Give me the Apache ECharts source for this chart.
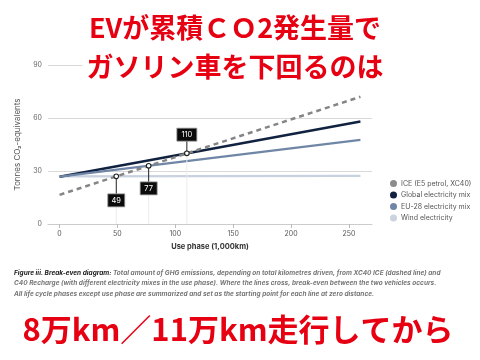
<!DOCTYPE html>
<html><head><meta charset="utf-8">
<script src="https://cdn.jsdelivr.net/npm/echarts@6/dist/echarts.min.js"></script>
<style>html,body{margin:0;padding:0;background:#fff}#c{width:480px;height:360px}</style>
</head><body><div id="c"></div>
<script>
const distance = [0, 260];
const iceValues = [16.5, 72];
const globalValues = [26.8, 58];
const euValues = [26.8, 47.6];
const windValues = [27, 27.2];
const breakEven = [[49, 26.96], [77, 32.95], [110, 39.98]];
const breakEvenLabels = ['49', '77', '110'];
const xTicks = [0, 50, 100, 150, 200, 250];
const yTicks = [0, 30, 60, 90];

const pair = (xs, ys) => xs.map((x, i) => [x, ys[i]]);
const labelOffsets = [24, 22.6, -18.7];

const chart = echarts.init(document.getElementById('c'));
const lineBase = {type: 'line', showSymbol: false, symbol: 'circle', animation: false, z: 3};
chart.setOption({
  animation: false,
  title: [
    {text: 'EVが累積ＣＯ2発生量で\nガソリン車を下回るのは', left: 231, textAlign: 'center', top: 6,
     backgroundColor: '#fff', padding: [2, 4, 0, 4],
     textStyle: {color: '#e60012', fontSize: 27, fontWeight: 'bold', lineHeight: 39,
       fontFamily: 'Noto Sans CJK JP'}},
    {text: '{b|Figure iii. Break-even diagram:} Total amount of GHG emissions, depending on total kilometres driven, from XC40 ICE (dashed line) and\nC40 Recharge (with different electricity mixes in the use phase). Where the lines cross, break-even between the two vehicles occurs.\nAll life cycle phases except use phase are summarized and set as the starting point for each line at zero distance.',
     left: 14, top: 268, padding: 0,
     textStyle: {color: '#777', fontSize: 6.5, fontStyle: 'italic', lineHeight: 10.3, fontFamily: 'Inter',
       rich: {b: {fontWeight: 'bold', color: '#222', fontStyle: 'italic', fontSize: 6.5, fontFamily: 'Inter'}}}},
    {text: '8万km／11万km走行してから', left: 233, textAlign: 'center', top: 309,
     textStyle: {color: '#e60012', fontSize: 31, fontWeight: 'bold', fontFamily: 'Noto Sans CJK JP'}}
  ],
  grid: {left: 48, right: 108, top: 65, bottom: 136},
  legend: {
    orient: 'vertical', left: 385, top: 175, itemWidth: 7, itemHeight: 7, itemGap: 4.5,
    icon: 'circle', textStyle: {fontSize: 7, color: '#555', fontFamily: 'Inter', padding: [0, 0, 0, -1]},
    data: ['ICE (E5 petrol, XC40)', 'Global electricity mix', 'EU-28 electricity mix', 'Wind electricity']
  },
  xAxis: {
    type: 'value', min: -10, max: 270, interval: 10,
    name: 'Use phase (1,000km)', nameLocation: 'middle', nameGap: 19,
    nameTextStyle: {fontSize: 7.5, fontWeight: 'bold', color: '#333', fontFamily: 'Inter'},
    axisLine: {lineStyle: {color: '#ccc'}},
    axisTick: {show: true, length: 4, lineStyle: {color: '#bbb'},
      customValues: xTicks},
    axisLabel: {fontSize: 7, color: '#555', margin: 6, fontFamily: 'Inter',
      customValues: xTicks},
    splitLine: {show: false}
  },
  yAxis: {
    type: 'value', min: 0, max: 90, interval: 30,
    name: 'Tonnes CO₂-equivalents', nameLocation: 'middle', nameGap: 26, nameRotate: 90,
    nameTextStyle: {fontSize: 8, color: '#555', fontFamily: 'Inter'},
    axisLine: {show: false}, axisTick: {show: false},
    axisLabel: {fontSize: 7, color: '#666', margin: 6, fontFamily: 'Inter',
      formatter: v => yTicks.includes(v) ? String(v) : ''},
    splitLine: {lineStyle: {color: '#d9d9d9'}}
  },
  series: [
    Object.assign({}, lineBase, {name: 'ICE (E5 petrol, XC40)', data: pair(distance, iceValues),
      itemStyle: {color: '#8c8c8c'}, lineStyle: {color: '#858585', width: 2.5, type: [5, 4]}, z: 5}),
    Object.assign({}, lineBase, {name: 'Global electricity mix', data: pair(distance, globalValues),
      itemStyle: {color: '#10223f'}, lineStyle: {color: '#10223f', width: 2.5}}),
    Object.assign({}, lineBase, {name: 'EU-28 electricity mix', data: pair(distance, euValues),
      itemStyle: {color: '#7086a6'}, lineStyle: {color: '#7086a6', width: 2.2}}),
    Object.assign({}, lineBase, {name: 'Wind electricity', data: pair(distance, windValues),
      itemStyle: {color: '#cbd3df'}, lineStyle: {color: '#c8d1de', width: 2.2}, z: 2}),
    {
      type: 'custom', z: 10, silent: true, animation: false,
      data: breakEven.map((p, i) => [p[0], p[1], i]),
      renderItem: function (params, api) {
        const i = api.value(2);
        const pt = api.coord([api.value(0), api.value(1)]);
        const base = api.coord([api.value(0), 0]);
        const dy = labelOffsets[i];
        const label = breakEvenLabels[i];
        const w = label.length > 2 ? 20 : 17, h = 13;
        const bx = pt[0] - w / 2, by = pt[1] + dy - h / 2;
        return {type: 'group', children: [
          {type: 'line', shape: {x1: pt[0], y1: dy > 0 ? by + h : pt[1], x2: pt[0], y2: base[1]},
           style: {stroke: '#ececec', lineWidth: 1}, z2: 0},
          {type: 'line', shape: {x1: pt[0], y1: pt[1], x2: pt[0], y2: dy > 0 ? by : by + h},
           style: {stroke: '#222', lineWidth: 1}, z2: 1},
          {type: 'rect', shape: {x: bx, y: by, width: w, height: h},
           style: {fill: '#0b0b0b', stroke: '#999', lineWidth: 0.8}, z2: 2},
          {type: 'text', style: {text: label, x: pt[0], y: pt[1] + dy, align: 'center', verticalAlign: 'middle',
            fill: '#fff', fontSize: 7.5, fontFamily: 'Inter'}, z2: 3},
          {type: 'circle', shape: {cx: pt[0], cy: pt[1], r: 2.3},
           style: {fill: '#fff', stroke: '#222', lineWidth: 1.1}, z2: 4}
        ]};
      }
    }
  ]
});
</script></body></html>
